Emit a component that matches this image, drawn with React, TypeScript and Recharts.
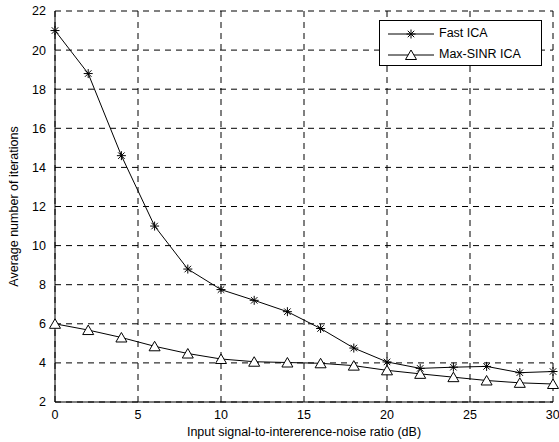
import { LineChart, XAxis, YAxis, CartesianGrid, Line, Label } from "recharts"

const snr = [0, 2, 4, 6, 8, 10, 12, 14, 16, 18, 20, 22, 24, 26, 28, 30]
const fastIca = [21, 18.8, 14.6, 11.0, 8.8, 7.75, 7.2, 6.62, 5.76, 4.76, 4.05, 3.72, 3.78, 3.82, 3.5, 3.56]
const maxSinrIca = [6.0, 5.68, 5.3, 4.85, 4.48, 4.2, 4.06, 4.02, 3.98, 3.86, 3.62, 3.44, 3.27, 3.1, 2.98, 2.92]
const xTicks = [0, 5, 10, 15, 20, 25, 30]
const yTicks = [2, 4, 6, 8, 10, 12, 14, 16, 18, 20, 22]

const datas = snr.map((x, i) => ({ x, fast: fastIca[i], sinr: maxSinrIca[i] }))

const font = "'Liberation Sans', Arial, sans-serif"

function Star(props: any) {
  const { cx, cy } = props
  if (cx == null || cy == null) return null
  const r = 4.5
  const d = r * 0.72
  return (
    <g stroke="#000" strokeWidth={1}>
      <line x1={cx - r} y1={cy} x2={cx + r} y2={cy} />
      <line x1={cx} y1={cy - r} x2={cx} y2={cy + r} />
      <line x1={cx - d} y1={cy - d} x2={cx + d} y2={cy + d} />
      <line x1={cx - d} y1={cy + d} x2={cx + d} y2={cy - d} />
    </g>
  )
}

function Tri(props: any) {
  const { cx, cy } = props
  if (cx == null || cy == null) return null
  const w = 5.5
  return (
    <polygon
      points={`${cx - w},${cy + 4.5} ${cx + w},${cy + 4.5} ${cx},${cy - 5}`}
      fill="#fff"
      stroke="#000"
      strokeWidth={1}
    />
  )
}

function LegendBox() {
  return (
    <div
      style={{
        position: "absolute",
        left: 379,
        top: 20,
        border: "1px solid #000",
        background: "#fff",
        width: 163,
        height: 46,
        boxSizing: "border-box",
        fontFamily: font,
        fontSize: 12.5,
      }}
    >
      <svg width={60} height={44} style={{ position: "absolute", left: 0, top: 0 }}>
        <line x1={8} y1={13} x2={54} y2={13} stroke="#000" />
        <Star cx={31} cy={13} />
        <line x1={8} y1={34} x2={54} y2={34} stroke="#000" />
        <Tri cx={31} cy={34} />
      </svg>
      <div style={{ position: "absolute", left: 59, top: 5 }}>Fast ICA</div>
      <div style={{ position: "absolute", left: 59, top: 26 }}>Max-SINR ICA</div>
    </div>
  )
}

export default function App() {
  return (
    <div style={{ position: "absolute", left: 0, top: 0, width: 559, height: 442, background: "#fff" }}>
      <LineChart
        width={559}
        height={442}
        data={datas}
        margin={{ top: 11, right: 6, left: 0, bottom: 0 }}
      >
        <CartesianGrid stroke="#000" strokeDasharray="6 5" strokeWidth={1} />
        <XAxis
          dataKey="x"
          type="number"
          domain={[0, 30]}
          ticks={xTicks}
          height={40}
          stroke="#000"
          tickLine={false}
          tick={{ fill: "#000", fontSize: 12.5, fontFamily: font }}
          tickMargin={2}
        >
          <Label
            value="Input signal-to-intererence-noise ratio (dB)"
            position="insideBottom"
            offset={6}
            style={{ fill: "#000", fontSize: 12.5, fontFamily: font }}
          />
        </XAxis>
        <XAxis xAxisId="top" dataKey="x" type="number" domain={[0, 30]} orientation="top" height={0} stroke="#000" tick={false} tickLine={false} />
        <YAxis
          type="number"
          domain={[2, 22]}
          ticks={yTicks}
          width={55}
          stroke="#000"
          tickLine={false}
          interval={0}
          tick={{ fill: "#000", fontSize: 12.5, fontFamily: font }}
          tickMargin={3}
        >
          <Label
            value="Average number of iterations"
            angle={-90}
            position="insideLeft"
            offset={14}
            style={{ fill: "#000", fontSize: 12.5, fontFamily: font, textAnchor: "middle" }}
          />
        </YAxis>
        <YAxis yAxisId="right" orientation="right" domain={[2, 22]} width={0} stroke="#000" tick={false} tickLine={false} />
        <Line type="linear" dataKey="fast" stroke="#000" strokeWidth={1} dot={<Star />} isAnimationActive={false} />
        <Line type="linear" dataKey="sinr" stroke="#000" strokeWidth={1} dot={<Tri />} isAnimationActive={false} />
      </LineChart>
      <LegendBox />
    </div>
  )
}
